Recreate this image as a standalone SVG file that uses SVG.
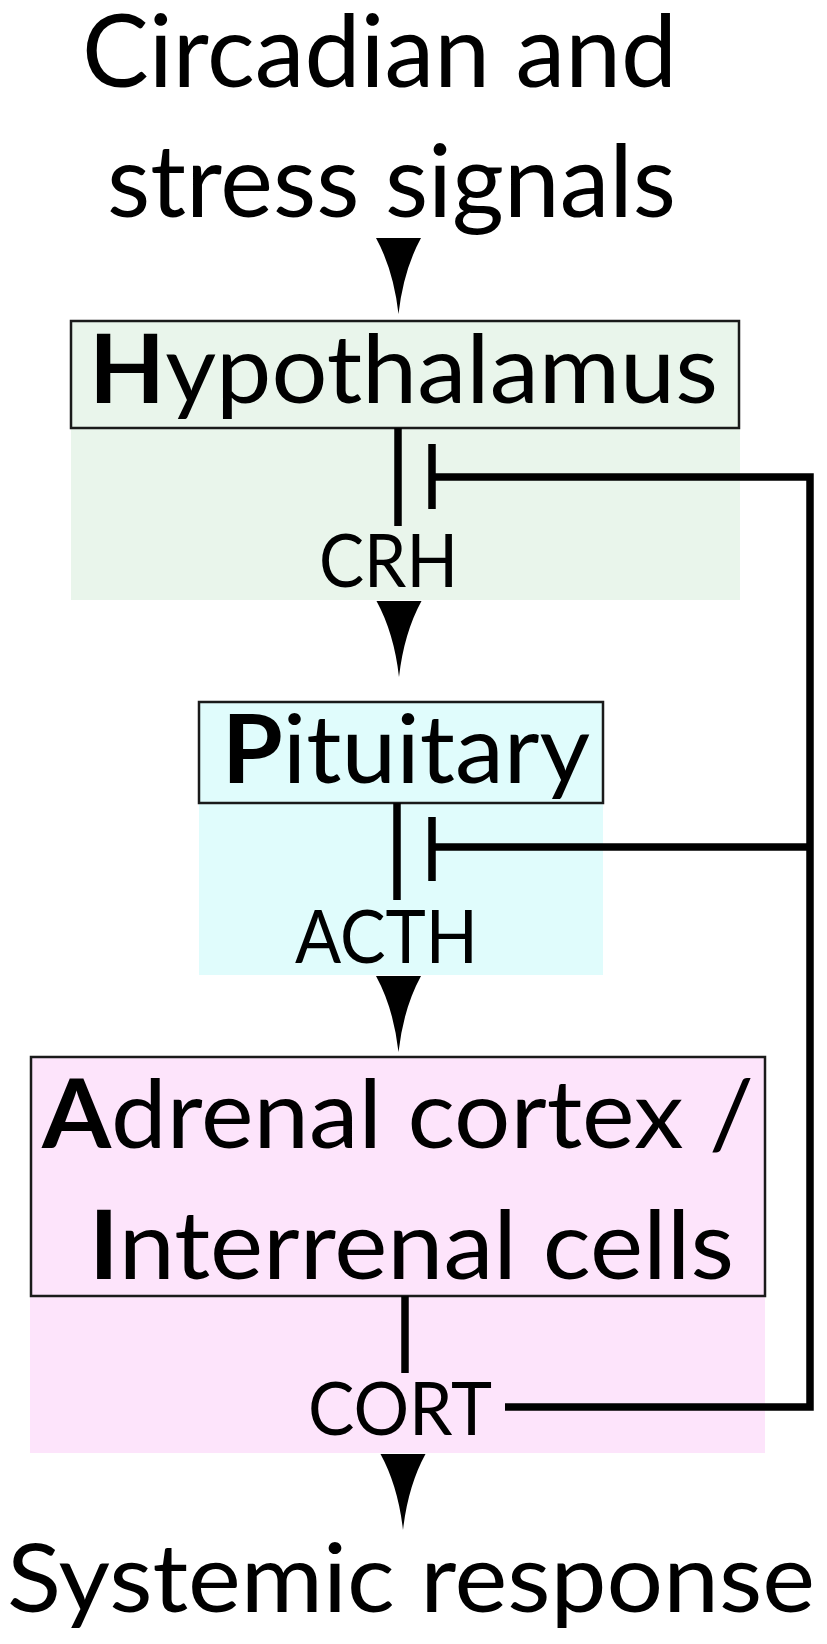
<svg xmlns="http://www.w3.org/2000/svg" width="827" height="1644" viewBox="0 0 827 1644">
<style>
  .t { font-family: Lato, "Open Sans", "Liberation Sans", sans-serif; fill: #000; }
  .big { font-size: 100px; }
  .node { font-size: 95px; }
  .lbl { font-size: 74px; }
  .b { font-weight: bold; }
  .box { stroke: #1a1a1a; stroke-width: 2.5; }
  .line { stroke: #000; stroke-width: 7.5; fill: none; stroke-linejoin: miter; }
  .green { fill: #e9f5eb; }
  .cyan { fill: #e0fcfc; }
  .pink { fill: #fde4fb; }
</style>
<defs>
  <path id="arr" d="M -22.5 0 H 22.5 Q 5 32 0 76 Q -5 32 -22.5 0 Z" fill="#000"/>
</defs>

<g id="input">
  <text class="t big" x="82" y="87" textLength="595" lengthAdjust="spacingAndGlyphs">Circadian and</text>
  <text class="t big" x="107" y="217" textLength="569" lengthAdjust="spacingAndGlyphs">stress signals</text>
</g>

<g id="hypothalamus">
  <rect class="green" x="71" y="321" width="669" height="279"/>
  <rect class="green box" x="71" y="321" width="668" height="107"/>
  <text class="t node" x="89" y="403" textLength="629" lengthAdjust="spacingAndGlyphs"><tspan class="b">H</tspan>ypothalamus</text>
  <text class="t lbl" x="319" y="587" textLength="139" lengthAdjust="spacingAndGlyphs">CRH</text>
</g>

<g id="pituitary">
  <rect class="cyan" x="199" y="702" width="404" height="273"/>
  <rect class="cyan box" x="199" y="702" width="404" height="101"/>
  <text class="t node" x="222" y="783" textLength="368" lengthAdjust="spacingAndGlyphs"><tspan class="b">P</tspan>ituitary</text>
  <text class="t lbl" x="295" y="963" textLength="183" lengthAdjust="spacingAndGlyphs">ACTH</text>
</g>

<g id="adrenal">
  <rect class="pink" x="30" y="1057" width="735" height="396"/>
  <rect class="pink box" x="31" y="1057" width="734" height="239"/>
  <text class="t node" x="42" y="1148" textLength="712" lengthAdjust="spacingAndGlyphs"><tspan class="b">A</tspan>drenal cortex /</text>
  <text class="t node" x="89" y="1279" textLength="645" lengthAdjust="spacingAndGlyphs"><tspan class="b">I</tspan>nterrenal cells</text>
  <text class="t lbl" x="308" y="1435" textLength="184" lengthAdjust="spacingAndGlyphs">CORT</text>
</g>

<g id="output">
  <text class="t node" x="7" y="1612" textLength="808" lengthAdjust="spacingAndGlyphs">Systemic response</text>
</g>

<g id="connectors">
  <use href="#arr" x="398.5" y="238"/>
  <use href="#arr" x="399" y="601"/>
  <use href="#arr" x="398.5" y="976"/>
  <use href="#arr" x="403" y="1454"/>
  <line class="line" x1="398" y1="428" x2="398" y2="526"/>
  <line class="line" x1="432" y1="444" x2="432" y2="509"/>
  <line class="line" x1="397" y1="803" x2="397" y2="900"/>
  <line class="line" x1="432" y1="817" x2="432" y2="881"/>
  <line class="line" x1="405" y1="1296" x2="405" y2="1373"/>
  <polyline class="line" points="432,477 810,477 810,1407 505,1407"/>
  <line class="line" x1="432" y1="847" x2="810" y2="847"/>
</g>
</svg>
